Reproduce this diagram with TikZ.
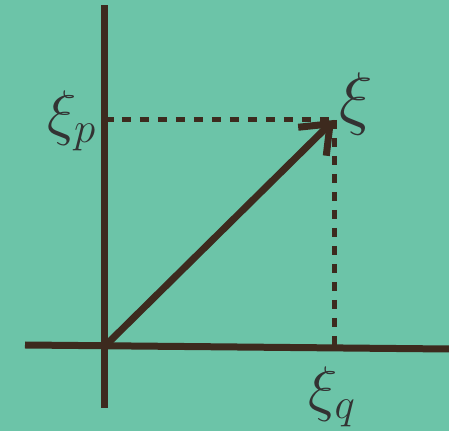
\RequirePackage{fix-cm}
\documentclass[tikz,border=0pt]{standalone}
\usepackage{amsmath}
\usepackage{tikz}
\usetikzlibrary{arrows.meta}
\definecolor{bgteal}{HTML}{6CC4A8}
\definecolor{axisbrown}{HTML}{3D2A1E}
\definecolor{labelgray}{HTML}{333333}

\begin{document}
\begin{tikzpicture}[
  x=0.02cm, y=-0.02cm,
  axis/.style={axisbrown, line width=0.14cm},
  proj/.style={axisbrown, line width=0.1cm, dash pattern=on 0.19cm off 0.17cm},
  vec/.style={axisbrown, line width=0.14cm, -{Straight Barb[length=0.5cm, width=0.8cm]}},
  lbl/.style={text=labelgray, font=\fontsize{35}{42}\selectfont, inner sep=0pt}
]
% Background
\fill[bgteal] (0,0) rectangle (449,431);
\useasboundingbox (0,0) rectangle (449,431);

% Points
\coordinate (origin) at (104,347);
\coordinate (tip) at (334,120);
\coordinate (ptop) at (104,120);
\coordinate (qfoot) at (334,348);
\coordinate (yaxtop) at (104,5);
\coordinate (yaxbot) at (104,408);
\coordinate (xaxleft) at (25,345);
\coordinate (xaxright) at (449,349);

% Axes
\draw[axis] (yaxbot) -- (yaxtop);
\draw[axis] (xaxleft) -- (xaxright);

% Projections
\draw[proj] (ptop) -- (tip);
\draw[proj] (tip) -- (qfoot);

% The vector
\draw[vec] (origin) -- (tip);

% Labels
\node[lbl] (xip) at (72,121) {$\xi_p$};
\node[lbl, font=\fontsize{40}{48}\selectfont] (xi) at (356,104) {$\xi$};
\node[lbl] (xiq) at (332,397) {$\xi_q$};
\end{tikzpicture}
\end{document}
